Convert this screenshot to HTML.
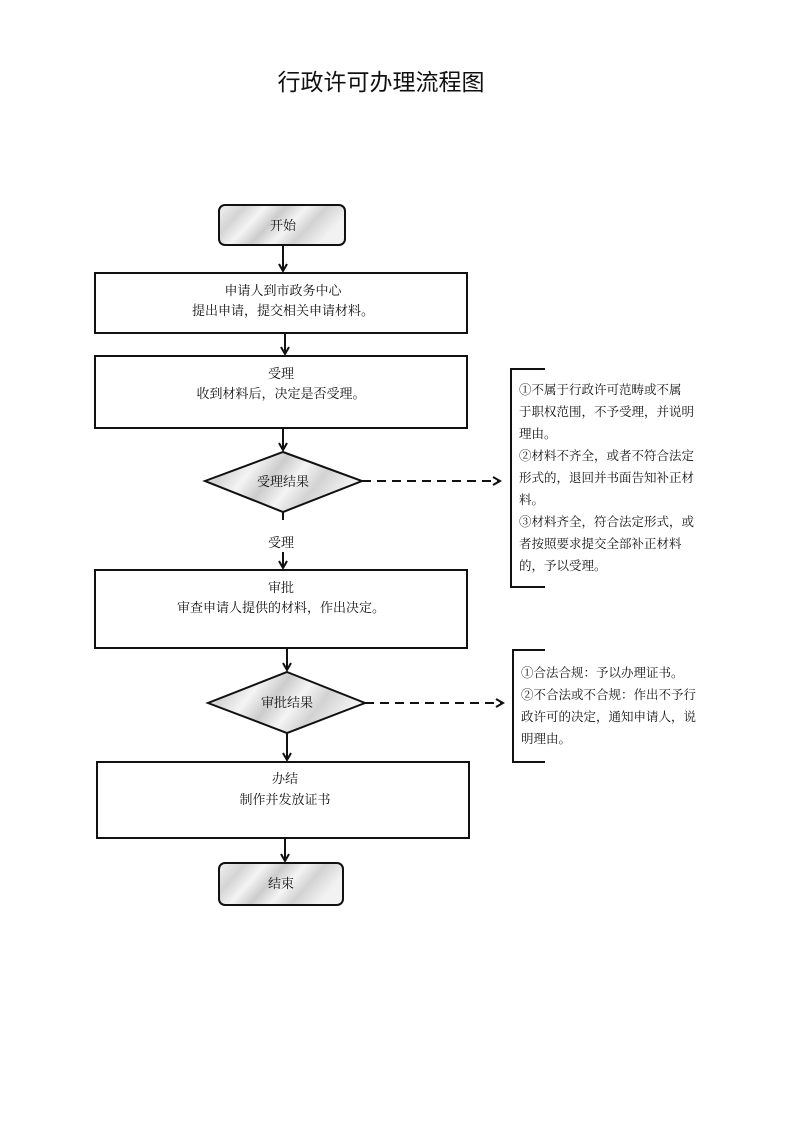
<!DOCTYPE html>
<html><head><meta charset="utf-8">
<style>
html,body{margin:0;padding:0;background:#fff;}
svg{display:block;}
text{font-family:"Liberation Serif","Noto Serif CJK SC","Noto Sans CJK SC",serif;fill:#111;}
</style></head>
<body>
<svg width="793" height="1122" viewBox="0 0 793 1122" xmlns="http://www.w3.org/2000/svg">
<defs>
<marker id="ah" markerWidth="10" markerHeight="10" refX="8" refY="5" orient="auto" markerUnits="userSpaceOnUse">
<path d="M1,1 L8,5 L1,9" fill="none" stroke="#111" stroke-width="2"/>
</marker>
<linearGradient id="tex" x1="0" y1="0" x2="1" y2="0.3">
<stop offset="0" stop-color="#f2f2f2"/><stop offset="0.2" stop-color="#d4d4d4"/><stop offset="0.35" stop-color="#f4f4f4"/>
<stop offset="0.5" stop-color="#cccccc"/><stop offset="0.65" stop-color="#f4f4f4"/><stop offset="0.8" stop-color="#d2d2d2"/><stop offset="1" stop-color="#f2f2f2"/>
</linearGradient>
</defs>
<text x="381" y="90" font-size="23" text-anchor="middle" style='font-family:"Liberation Sans","Noto Sans CJK SC",sans-serif'>行政许可办理流程图</text>

<g stroke="#111" stroke-width="2" fill="none">
<rect x="219" y="205" width="126" height="40" rx="6" fill="url(#tex)"/>
<line x1="283" y1="245" x2="283" y2="271" marker-end="url(#ah)"/>
<rect x="95" y="273" width="372" height="60" fill="#fff"/>
<line x1="285" y1="333" x2="285" y2="354" marker-end="url(#ah)"/>
<rect x="95" y="356" width="372" height="72" fill="#fff"/>
<line x1="283" y1="428" x2="283" y2="450" marker-end="url(#ah)"/>
<polygon points="283,452 362,481 283,512 205,481" fill="url(#tex)"/>
<line x1="362" y1="481" x2="500" y2="481" stroke-dasharray="9,6" marker-end="url(#ah)"/>
<line x1="283" y1="512" x2="283" y2="520"/>
<line x1="283" y1="552" x2="283" y2="568" marker-end="url(#ah)"/>
<rect x="95" y="570" width="372" height="78" fill="#fff"/>
<line x1="287" y1="648" x2="287" y2="670" marker-end="url(#ah)"/>
<polygon points="287,672 365,703 287,733 208,703" fill="url(#tex)"/>
<line x1="365" y1="703" x2="503" y2="703" stroke-dasharray="9,6" marker-end="url(#ah)"/>
<line x1="287" y1="733" x2="287" y2="760" marker-end="url(#ah)"/>
<rect x="97" y="762" width="372" height="76" fill="#fff"/>
<line x1="285" y1="838" x2="285" y2="861" marker-end="url(#ah)"/>
<rect x="219" y="863" width="124" height="42" rx="6" fill="url(#tex)"/>
<polyline points="545,369 511,369 511,587 545,587"/>
<polyline points="545,650 513,650 513,762 545,762"/>
</g>

<g font-size="13" text-anchor="middle">
<text x="283" y="230">开始</text>
<text x="283" y="295">申请人到市政务中心</text>
<text x="283" y="315">提出申请，提交相关申请材料。</text>
<text x="281" y="378">受理</text>
<text x="281" y="398">收到材料后，决定是否受理。</text>
<text x="283" y="486">受理结果</text>
<text x="281" y="547">受理</text>
<text x="281" y="592">审批</text>
<text x="281" y="612">审查申请人提供的材料，作出决定。</text>
<text x="287" y="707">审批结果</text>
<text x="285" y="783">办结</text>
<text x="285" y="804">制作并发放证书</text>
<text x="281" y="888">结束</text>
</g>
<g font-size="12.5">
<text x="519" y="394">①不属于行政许可范畴或不属</text>
<text x="519" y="416">于职权范围，不予受理，并说明</text>
<text x="519" y="438">理由。</text>
<text x="519" y="460">②材料不齐全，或者不符合法定</text>
<text x="519" y="482">形式的，退回并书面告知补正材</text>
<text x="519" y="504">料。</text>
<text x="519" y="526">③材料齐全，符合法定形式，或</text>
<text x="519" y="548">者按照要求提交全部补正材料</text>
<text x="519" y="570">的，予以受理。</text>
<text x="521" y="677">①合法合规：予以办理证书。</text>
<text x="521" y="699">②不合法或不合规：作出不予行</text>
<text x="521" y="721">政许可的决定，通知申请人，说</text>
<text x="521" y="743">明理由。</text>
</g>
</svg>
</body></html>
